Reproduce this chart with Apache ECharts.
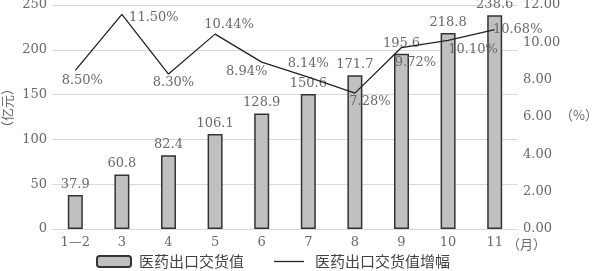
<!DOCTYPE html>
<html><head><meta charset="utf-8">
<script src="https://cdn.jsdelivr.net/npm/echarts@6/dist/echarts.min.js"></script>
<style>html,body{margin:0;padding:0;background:#fff}#c{width:592px;height:271px}</style>
</head><body><div id="c"></div>
<script>
const categories = ['1—2','3','4','5','6','7','8','9','10','11'];
const exportValue = [37.9, 60.8, 82.4, 106.1, 128.9, 150.6, 171.7, 195.6, 218.8, 238.6];
const growthRate = [8.50, 11.50, 8.30, 10.44, 8.94, 8.14, 7.28, 9.72, 10.10, 10.68];
const leftTicks = [0, 50, 100, 150, 200, 250];
const rightTicks = [0, 2, 4, 6, 8, 10, 12];
const labelOffsets = [[7,10],[32,3],[5,9],[14,-9],[-15,10],[0,-13],[15,9],[14,15],[25,9.5],[23,0]];

const serif = 'DejaVu Serif';
const cjk = 'Noto Sans CJK SC';
const txt = '#6a6a6a';

const chart = echarts.init(document.getElementById('c'));
chart.setOption({
  animation: false,
  grid: { left: 52, right: 74, top: 5, bottom: 42, containLabel: false, outerBoundsMode: 'none' },
  legend: [
    { data: ['医药出口交货值'], left: 96, top: 254, padding: 0, itemWidth: 34, itemHeight: 11,
      textStyle: { fontFamily: cjk, fontSize: 15, color: '#444', padding: [0,0,0,3] } },
    { data: [{ name: '医药出口交货值增幅', icon: 'rect' }], left: 274, top: 254, padding: 0,
      itemWidth: 30, itemHeight: 1.3,
      itemStyle: { color: '#222', borderWidth: 0 },
      textStyle: { fontFamily: cjk, fontSize: 15, color: '#444', padding: [0,0,0,6] } }
  ],
  xAxis: {
    type: 'category', data: categories,
    axisLine: { lineStyle: { color: '#d9d9d9' } },
    axisTick: { show: false },
    axisLabel: { fontFamily: serif, fontSize: 13, color: txt, margin: 7 }
  },
  yAxis: [
    { type: 'value', min: leftTicks[0], max: leftTicks[leftTicks.length-1], interval: 50,
      axisLine: { show: false }, axisTick: { show: false },
      splitLine: { lineStyle: { color: '#d9d9d9' } },
      axisLabel: { fontFamily: serif, fontSize: 13, color: txt, margin: 5 } },
    { type: 'value', min: rightTicks[0], max: rightTicks[rightTicks.length-1], interval: 2,
      axisLine: { show: false }, axisTick: { show: false }, splitLine: { show: false },
      axisLabel: { fontFamily: serif, fontSize: 13, color: txt, margin: 5,
        formatter: v => v.toFixed(2) } }
  ],
  graphic: [
    { type: 'text', x: 1, y: 134, rotation: Math.PI / 2, style: { text: '（亿元）', font: '13px "Noto Sans CJK SC"', fill: txt } },
    { type: 'text', left: 560, top: 109, style: { text: '（%）', font: '13px "Noto Sans CJK SC"', fill: txt } },
    { type: 'text', left: 507, top: 238, style: { text: '（月）', font: '13px "Noto Sans CJK SC"', fill: txt } }
  ],
  series: [
    { name: '医药出口交货值', type: 'bar', data: exportValue, barWidth: 15,
      itemStyle: { color: '#c0c0c0', borderColor: '#333', borderWidth: 1.5 },
      label: { show: true, position: 'top', distance: 4, fontFamily: serif, fontSize: 13, color: txt } },
    { name: '医药出口交货值增幅', type: 'line', yAxisIndex: 1,
      data: growthRate.map((v, i) => ({ value: v, label: { offset: labelOffsets[i] } })),
      symbol: 'circle', symbolSize: 0.1, showSymbol: true,
      lineStyle: { color: '#222', width: 1.3 }, itemStyle: { color: '#222' },
      label: { show: true, position: 'inside', fontFamily: serif, fontSize: 13, color: txt,
        formatter: p => p.value.toFixed(2) + '%' } }
  ]
});
</script></body></html>
